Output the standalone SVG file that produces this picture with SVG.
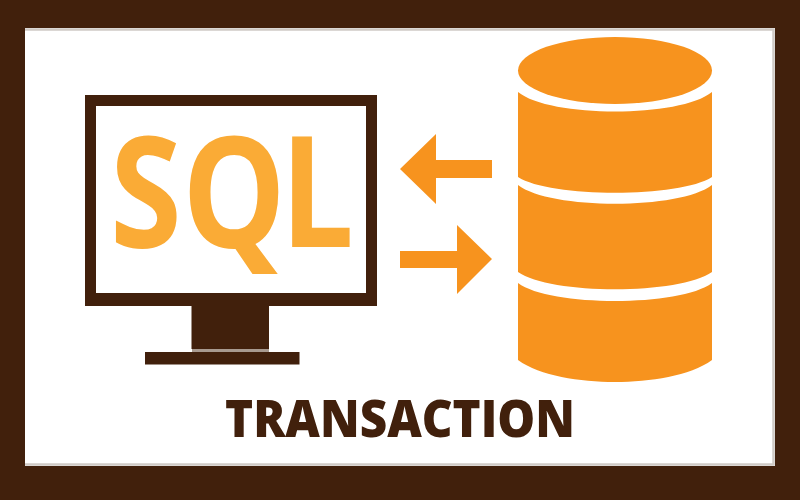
<svg xmlns="http://www.w3.org/2000/svg" width="800" height="500" viewBox="0 0 800 500">
<style>
.brown{fill:#41200c}
.or{fill:#f7931e}
.sql{font-family:'Open Sans','Liberation Sans',sans-serif;font-weight:700;font-size:155px;fill:#faab36}
</style>
<rect width="800" height="500" class="brown"/>
<rect x="25" y="28" width="750" height="438" fill="#fff"/>
<path d="M25 29.500H773.500V464.500H25" fill="none" stroke="#cfcac6" stroke-width="2.500"/>
<g id="monitor">
<rect x="85" y="95" width="292" height="211" class="brown"/>
<rect x="96" y="106" width="270" height="187" fill="#fff"/>
<rect x="192" y="349" width="77" height="3" fill="#a89a90"/>
<rect x="191.500" y="306" width="77.500" height="43" class="brown"/>
<rect x="145" y="352" width="154.500" height="12.500" class="brown"/>
<text class="sql" transform="scale(0.84 1)" x="131 217 334" y="247">SQL</text>
</g>
<g id="database">
<ellipse class="or" cx="615" cy="70.500" rx="97" ry="33.500"/>
<path class="or" d="M518 92C550 118 680 118 712 92V177C680 198 550 198 518 177Z"/>
<path class="or" d="M518 185C550 210 680 210 712 185V272C680 295 550 295 518 272Z"/>
<path class="or" d="M518 283C550 307 680 307 712 283V360C690 376 650 382 615 382C580 382 540 376 518 360Z"/>
</g>
<g id="connectors">
<path class="or" d="M400 169L436 134V160H492V178H436V204Z"/>
<path class="or" d="M492 259L457 225V251H400V268H457V294Z"/>
</g>
<g id="label">
<text x="225" y="437" font-family="'Open Sans','Liberation Sans',sans-serif" font-weight="800" font-size="52" class="brown" textLength="350" lengthAdjust="spacingAndGlyphs">TRANSACTION</text>
</g>
</svg>
